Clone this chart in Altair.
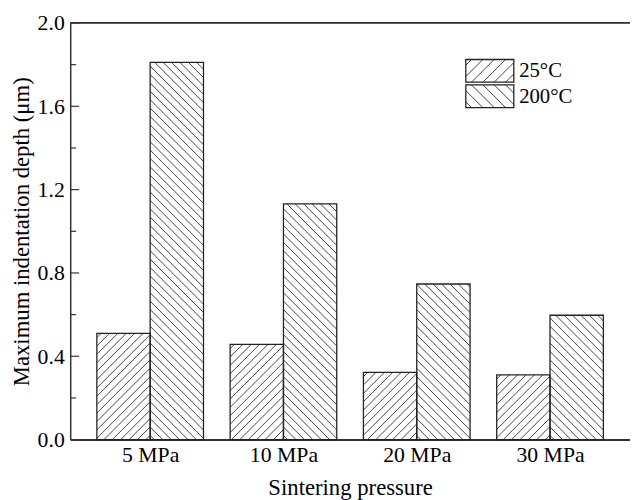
import json
import altair as alt
import pandas as pd

# ---------------- data ----------------
categories = ["5 MPa", "10 MPa", "20 MPa", "30 MPa"]
series = ["25°C", "200°C"]
depth_25 = [0.510, 0.457, 0.323, 0.311]
depth_200 = [1.811, 1.132, 0.747, 0.597]
y_major = [0.0, 0.4, 0.8, 1.2, 1.6, 2.0]
y_minor = [0.2, 0.6, 1.0, 1.4, 1.8]

# ---------------- layout / style constants ----------------
W, H = 567, 422
XMIN, XMAX = 0.4, 4.6
YMIN, YMAX = 0.0, 2.0
PX = W / (XMAX - XMIN)      # pixels per x unit
PY = H / (YMAX - YMIN)      # pixels per y unit
BAR = 0.4                   # bar width in x units
SP_BAR = 8.5                # hatch spacing (px) in bars
SP_LEG = 11.5               # hatch spacing (px) in legend
FONT = "Liberation Serif"
INK = "#222222"

# legend geometry (pixels, relative to plot origin)
LEG_X0, LEG_W, LEG_H = 400.7, 48.6, 23.0
LEG_TOPS = [37.0, 62.7]
LEG_TEXT_X = 454.7
LEG_TEXT_Y = [54.8, 81.5]

rows = []
for i, cat in enumerate(categories):
    for s, vals in enumerate([depth_25, depth_200]):
        rows.append({"cat": cat, "g": i + 1, "s": s, "series": series[s], "value": vals[i]})
bars_df = pd.DataFrame(rows)

leg_df = pd.DataFrame({
    "s": [0, 1],
    "label": series,
    "top": LEG_TOPS,
    "ty": LEG_TEXT_Y,
})

ticks_major = pd.DataFrame({"t": y_major})
ticks_minor = pd.DataFrame({"t": y_minor})

# ---------------- scales / axes ----------------
xscale = alt.Scale(domain=[XMIN, XMAX], nice=False, zero=False)
yscale = alt.Scale(domain=[YMIN, YMAX], nice=False, zero=True)

xaxis = alt.Axis(
    values=[1, 2, 3, 4],
    labelExpr=f"{json.dumps(categories)}[datum.value - 1]",
    ticks=False, grid=False,
    labelFont=FONT, labelFontSize=22, labelColor="black", labelPadding=5,
    domainColor="#333333", domainWidth=2,
    title="Sintering pressure", titleFont=FONT, titleFontSize=23,
    titleFontWeight="normal", titleColor="black", titlePadding=12,
)
yaxis = alt.Axis(
    values=y_major, format=".1f",
    ticks=False, grid=False,
    labelFont=FONT, labelFontSize=22, labelColor="black", labelPadding=6,
    domainColor="#333333", domainWidth=1.5,
    title="Maximum indentation depth (μm)", titleFont=FONT, titleFontSize=23,
    titleFontWeight="normal", titleColor="black", titlePadding=4,
)


def hatch(chart, spacing):
    """Generate 45° hatch segments inside a box of size wpx x hpx (pixels).
    s == 0 -> '/' , s == 1 -> '\\'. u is horizontal offset, v is upward offset."""
    half = spacing / 2
    return (
        chart.transform_calculate(
            cs=f"datum.s == 0 ? sequence(-datum.hpx + {half}, datum.wpx, {spacing})"
               f" : sequence({half}, datum.wpx + datum.hpx, {spacing})"
        )
        .transform_flatten(["cs"], as_=["c"])
        .transform_calculate(
            v1="datum.s == 0 ? max(0, -datum.c) : max(0, datum.c - datum.wpx)",
            v2="datum.s == 0 ? min(datum.hpx, datum.wpx - datum.c) : min(datum.hpx, datum.c)",
        )
        .transform_calculate(
            u1="datum.s == 0 ? datum.v1 + datum.c : datum.c - datum.v1",
            u2="datum.s == 0 ? datum.v2 + datum.c : datum.c - datum.v2",
        )
        .transform_filter("datum.v2 - datum.v1 > 0.3")
    )


base = alt.Chart(bars_df).transform_calculate(
    x0=f"datum.g - {BAR} + {BAR} * datum.s",
).transform_calculate(
    x1=f"datum.x0 + {BAR}",
    wpx=f"{BAR * PX}",
    hpx=f"datum.value * {PY}",
)

bar_hatch = hatch(base, SP_BAR).transform_calculate(
    hx1=f"datum.x0 + datum.u1 / {PX}",
    hx2=f"datum.x0 + datum.u2 / {PX}",
    hy1=f"datum.v1 / {PY}",
    hy2=f"datum.v2 / {PY}",
).mark_rule(color=INK, strokeWidth=0.85).encode(
    x=alt.X("hx1:Q", scale=xscale, axis=xaxis),
    x2="hx2:Q",
    y=alt.Y("hy1:Q", scale=yscale, axis=yaxis),
    y2="hy2:Q",
)

bar_outline = base.mark_rect(fillOpacity=0, stroke=INK, strokeWidth=1.3).encode(
    x=alt.X("x0:Q", scale=xscale, axis=xaxis),
    x2="x1:Q",
    y=alt.Y("value:Q", scale=yscale, axis=yaxis),
    y2=alt.datum(0),
)

tick_major = alt.Chart(ticks_major).mark_rule(color="#333333", strokeWidth=1.2).encode(
    y=alt.Y("t:Q", scale=yscale, axis=yaxis),
    x=alt.value(0), x2=alt.value(9),
)
tick_minor = alt.Chart(ticks_minor).mark_rule(color="#333333", strokeWidth=1.2).encode(
    y=alt.Y("t:Q", scale=yscale, axis=yaxis),
    x=alt.value(0), x2=alt.value(6),
)

top_border = alt.Chart(ticks_major).transform_filter("datum.t == 0").mark_rule(
    color="#333333", strokeWidth=1.8
).encode(x=alt.value(0), x2=alt.value(W), y=alt.value(0))

# ---------------- legend (pixel space) ----------------
leg_base = alt.Chart(leg_df).transform_calculate(
    wpx=f"{LEG_W}",
    hpx=f"{LEG_H}",
    x0=f"{LEG_X0}",
    x1=f"{LEG_X0 + LEG_W}",
    bot=f"datum.top + {LEG_H}",
)

leg_hatch = hatch(leg_base, SP_LEG).transform_calculate(
    lx1="datum.x0 + datum.u1",
    lx2="datum.x0 + datum.u2",
    ly1="datum.bot - datum.v1",
    ly2="datum.bot - datum.v2",
).mark_rule(color=INK, strokeWidth=0.85).encode(
    x=alt.X("lx1:Q", scale=None),
    x2="lx2:Q",
    y=alt.Y("ly1:Q", scale=None),
    y2="ly2:Q",
)

leg_box = leg_base.mark_rect(fillOpacity=0, stroke=INK, strokeWidth=1.3).encode(
    x=alt.X("x0:Q", scale=None),
    x2="x1:Q",
    y=alt.Y("top:Q", scale=None),
    y2="bot:Q",
)

leg_text = alt.Chart(leg_df).mark_text(
    align="left", baseline="alphabetic", font=FONT, fontSize=21, color="black"
).encode(
    x=alt.value(LEG_TEXT_X),
    y=alt.Y("ty:Q", scale=None),
    text="label:N",
)

chart = alt.layer(
    bar_hatch, bar_outline, tick_major, tick_minor, top_border,
    leg_hatch, leg_box, leg_text,
).properties(
    width=W, height=H,
    autosize=alt.AutoSizeParams(type="none"),
    padding={"left": 63, "top": 12, "right": 0, "bottom": 58},
).configure_view(stroke=None).configure(background="white")

chart.save("out.html", embed_options={"renderer": "svg", "actions": False})
